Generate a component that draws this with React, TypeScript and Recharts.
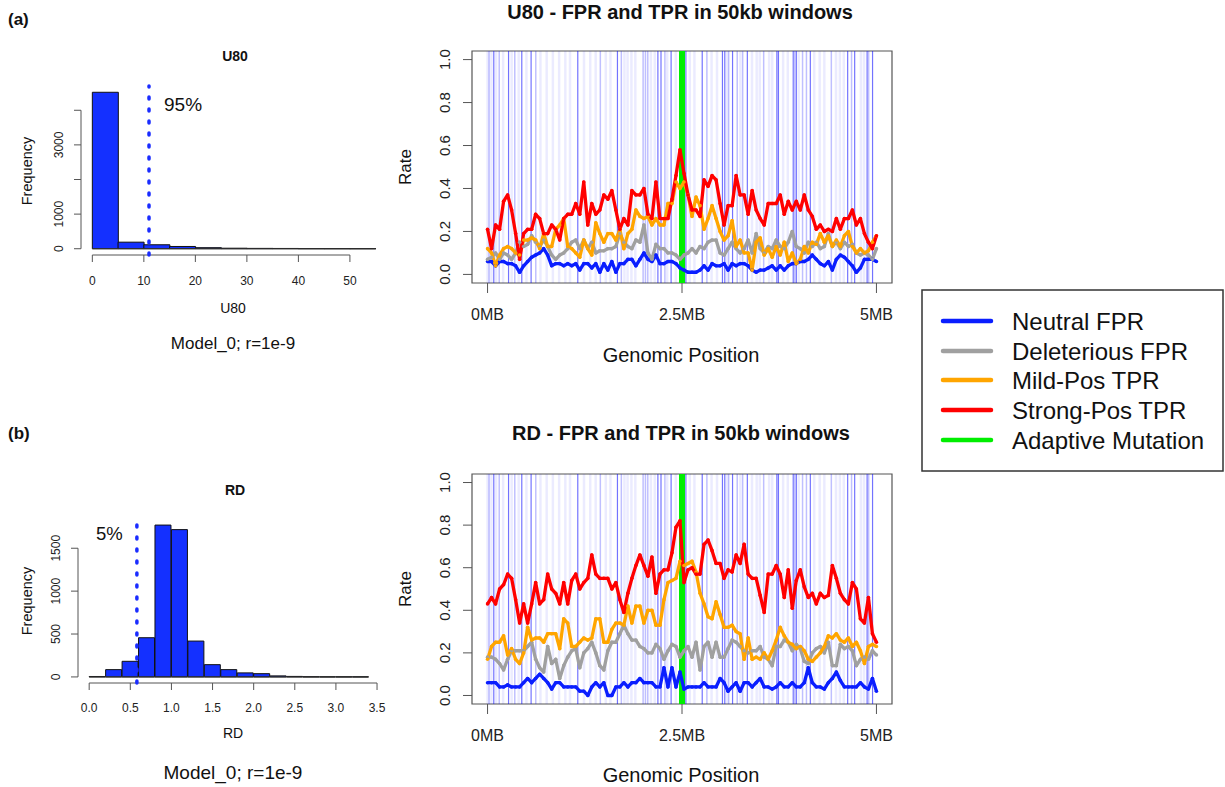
import React from "react";
import {
  ComposedChart,
  LineChart,
  Line,
  Bar,
  XAxis,
  YAxis,
  ReferenceLine,
  ReferenceArea,
} from "recharts";

const FONT = '"Liberation Sans", Arial, Helvetica, sans-serif';

// ---------- histograms ----------
const u80BinStart = [0, 5, 10, 15, 20, 25, 30, 35, 40, 45, 50];
const u80Counts = [4520, 190, 115, 65, 30, 15, 10, 8, 3, 2, 1];
const u80XTicks = [0, 10, 20, 30, 40, 50];
const u80YTicks = [0, 1000, 2000, 3000, 4000];
const u80YLabels = ["0", "1000", "", "3000", ""];
const u80Cutoff = 11; // 95%

const rdBinStart = [0, 0.2, 0.4, 0.6, 0.8, 1.0, 1.2, 1.4, 1.6, 1.8, 2.0, 2.2, 2.4, 2.6, 2.8, 3.0, 3.2];
const rdCounts = [5, 85, 182, 457, 1770, 1717, 418, 143, 85, 47, 38, 12, 6, 2, 1, 1, 1];
const rdXTicks = [0, 0.5, 1, 1.5, 2, 2.5, 3, 3.5];
const rdYTicks = [0, 500, 1000, 1500];
const rdYLabels = ["0", "500", "1000", "1500"];
const rdCutoff = 0.58; // 5%

// ---------- 50kb windows, U80 ----------
const u80Neutral = [
  0.06, 0.06, 0.04, 0.06, 0.06, 0.05, 0.05, 0.04, 0.01, 0.04, 0.06, 0.08, 0.09, 0.1, 0.12, 0.09, 0.04, 0.05, 0.05, 0.04,
  0.05, 0.04, 0.05, 0.02, 0.05, 0.05, 0.03, 0.05, 0.01, 0.05, 0.02, 0.06, 0.01, 0.05, 0.05, 0.07, 0.07, 0.04, 0.07, 0.1,
  0.07, 0.06, 0.09, 0.05, 0.05, 0.06, 0.06, 0.05, 0.03, 0.02, 0.01, 0.01, 0.01, 0.02, 0.04, 0.02, 0.05, 0.04, 0.04, 0.05,
  0.02, 0.05, 0.04, 0.05, 0.05, 0.04, 0.02, 0.01, 0.02, 0.02, 0.03, 0.04, 0.02, 0.04, 0.02, 0.04, 0.05, 0.05, 0.06, 0.06,
  0.07, 0.09, 0.07, 0.05, 0.04, 0.06, 0.02, 0.07, 0.09, 0.08, 0.06, 0.04, 0.01, 0.03, 0.07, 0.07, 0.07, 0.06,
];
const u80Deleterious = [
  0.07, 0.08, 0.1, 0.07, 0.1, 0.09, 0.07, 0.1, 0.15, 0.13, 0.14, 0.18, 0.15, 0.13, 0.16, 0.13, 0.09, 0.07, 0.09, 0.1,
  0.12, 0.15, 0.16, 0.12, 0.16, 0.12, 0.15, 0.1, 0.11, 0.11, 0.12, 0.12, 0.13, 0.19, 0.15, 0.13, 0.12, 0.16, 0.15, 0.23,
  0.1, 0.07, 0.14, 0.12, 0.12, 0.1, 0.1, 0.09, 0.07, 0.09, 0.1, 0.12, 0.1, 0.13, 0.12, 0.15, 0.16, 0.16, 0.1, 0.09,
  0.12, 0.15, 0.12, 0.1, 0.12, 0.16, 0.1, 0.19, 0.12, 0.1, 0.13, 0.12, 0.16, 0.13, 0.12, 0.15, 0.2, 0.13, 0.12, 0.1,
  0.15, 0.13, 0.15, 0.12, 0.13, 0.19, 0.13, 0.15, 0.12, 0.15, 0.13, 0.14, 0.1, 0.09, 0.1, 0.09, 0.07, 0.12,
];
const u80Mild = [
  0.12, 0.1, 0.04, 0.09, 0.12, 0.13, 0.12, 0.1, 0.09, 0.16, 0.16, 0.17, 0.16, 0.12, 0.19, 0.13, 0.13, 0.21, 0.23, 0.26,
  0.13, 0.12, 0.1, 0.08, 0.16, 0.12, 0.09, 0.24, 0.19, 0.15, 0.19, 0.19, 0.16, 0.21, 0.12, 0.19, 0.21, 0.3, 0.27, 0.26,
  0.27, 0.23, 0.26, 0.23, 0.23, 0.33, 0.33, 0.43, 0.4, 0.43, 0.37, 0.27, 0.36, 0.32, 0.21, 0.26, 0.32, 0.26, 0.2, 0.16,
  0.18, 0.25, 0.13, 0.16, 0.1, 0.1, 0.02, 0.15, 0.17, 0.09, 0.12, 0.08, 0.13, 0.09, 0.15, 0.06, 0.1, 0.05, 0.07, 0.13,
  0.1, 0.15, 0.14, 0.19, 0.15, 0.18, 0.13, 0.16, 0.13, 0.18, 0.2, 0.13, 0.1, 0.12, 0.1, 0.11, 0.15, 0.18,
];
const u80Strong = [
  0.21, 0.12, 0.23, 0.21, 0.34, 0.37, 0.3, 0.19, 0.07, 0.19, 0.21, 0.21, 0.28, 0.26, 0.19, 0.19, 0.23, 0.21, 0.16, 0.26,
  0.28, 0.28, 0.33, 0.28, 0.43, 0.23, 0.33, 0.28, 0.3, 0.37, 0.35, 0.39, 0.3, 0.21, 0.26, 0.23, 0.39, 0.37, 0.37, 0.4,
  0.28, 0.26, 0.43, 0.26, 0.26, 0.26, 0.35, 0.46, 0.58, 0.47, 0.37, 0.3, 0.3, 0.27, 0.44, 0.41, 0.46, 0.44, 0.33, 0.23,
  0.32, 0.32, 0.46, 0.37, 0.37, 0.28, 0.39, 0.3, 0.26, 0.23, 0.33, 0.33, 0.33, 0.37, 0.28, 0.34, 0.3, 0.34, 0.3, 0.37,
  0.3, 0.27, 0.21, 0.23, 0.2, 0.21, 0.2, 0.26, 0.21, 0.26, 0.26, 0.3, 0.23, 0.26, 0.19, 0.15, 0.12, 0.18,
];

// ---------- 50kb windows, RD ----------
const rdNeutral = [
  0.06, 0.06, 0.06, 0.04, 0.04, 0.05, 0.04, 0.04, 0.04, 0.06, 0.08, 0.06, 0.08, 0.1, 0.08, 0.06, 0.03, 0.06, 0.06, 0.04,
  0.04, 0.04, 0.04, 0.02, 0.02, 0.0, 0.04, 0.06, 0.04, 0.06, 0.0, 0.0, 0.04, 0.04, 0.06, 0.04, 0.06, 0.06, 0.08, 0.06,
  0.06, 0.06, 0.04, 0.04, 0.13, 0.04, 0.13, 0.04, 0.11, 0.03, 0.04, 0.04, 0.04, 0.04, 0.06, 0.04, 0.04, 0.04, 0.08, 0.06,
  0.02, 0.04, 0.06, 0.02, 0.06, 0.06, 0.04, 0.06, 0.08, 0.04, 0.04, 0.03, 0.04, 0.06, 0.04, 0.04, 0.06, 0.04, 0.04, 0.06,
  0.13, 0.06, 0.04, 0.04, 0.03, 0.06, 0.08, 0.11, 0.07, 0.04, 0.04, 0.04, 0.04, 0.06, 0.04, 0.03, 0.08, 0.02,
];
const rdDeleterious = [
  0.18, 0.18, 0.17, 0.15, 0.12, 0.17, 0.21, 0.21, 0.21, 0.21, 0.23, 0.25, 0.17, 0.13, 0.11, 0.23, 0.15, 0.17, 0.08, 0.14,
  0.18, 0.21, 0.22, 0.13, 0.2, 0.22, 0.25, 0.2, 0.14, 0.12, 0.21, 0.25, 0.25, 0.29, 0.33, 0.29, 0.26, 0.26, 0.23, 0.22,
  0.2, 0.2, 0.24, 0.22, 0.17, 0.21, 0.24, 0.23, 0.18, 0.21, 0.23, 0.18, 0.25, 0.12, 0.23, 0.25, 0.18, 0.25, 0.18, 0.18,
  0.22, 0.26, 0.25, 0.23, 0.21, 0.2, 0.21, 0.21, 0.23, 0.18, 0.17, 0.14, 0.23, 0.23, 0.26, 0.25, 0.21, 0.24, 0.22, 0.16,
  0.15, 0.2, 0.22, 0.23, 0.2, 0.25, 0.14, 0.14, 0.24, 0.22, 0.23, 0.21, 0.14, 0.17, 0.18, 0.17, 0.21, 0.19,
];
const rdMild = [
  0.17, 0.23, 0.25, 0.25, 0.28, 0.19, 0.22, 0.17, 0.15, 0.2, 0.32, 0.26, 0.27, 0.27, 0.25, 0.29, 0.29, 0.29, 0.22, 0.36,
  0.34, 0.23, 0.23, 0.25, 0.27, 0.26, 0.27, 0.36, 0.36, 0.25, 0.25, 0.31, 0.34, 0.34, 0.33, 0.42, 0.34, 0.42, 0.42, 0.34,
  0.4, 0.4, 0.33, 0.33, 0.45, 0.53, 0.54, 0.55, 0.63, 0.61, 0.62, 0.63, 0.58, 0.48, 0.43, 0.37, 0.36, 0.44, 0.38, 0.32,
  0.32, 0.33, 0.3, 0.29, 0.17, 0.27, 0.17, 0.18, 0.17, 0.2, 0.17, 0.21, 0.26, 0.32, 0.28, 0.25, 0.24, 0.22, 0.23, 0.21,
  0.17, 0.16, 0.18, 0.2, 0.23, 0.28, 0.27, 0.29, 0.26, 0.25, 0.27, 0.23, 0.25, 0.21, 0.15, 0.23, 0.24, 0.23,
];
const rdStrong = [
  0.43, 0.46, 0.43, 0.5, 0.52, 0.57, 0.55, 0.45, 0.34, 0.43, 0.34, 0.43, 0.53, 0.43, 0.45, 0.57, 0.5, 0.48, 0.43, 0.53,
  0.43, 0.54, 0.57, 0.5, 0.53, 0.55, 0.66, 0.57, 0.55, 0.55, 0.55, 0.5, 0.53, 0.45, 0.39, 0.48, 0.55, 0.61, 0.66, 0.61,
  0.56, 0.65, 0.48, 0.57, 0.59, 0.59, 0.67, 0.79, 0.82, 0.53, 0.59, 0.6, 0.57, 0.57, 0.71, 0.73, 0.68, 0.62, 0.62, 0.55,
  0.59, 0.58, 0.66, 0.62, 0.71, 0.57, 0.55, 0.55, 0.47, 0.39, 0.57, 0.57, 0.61, 0.57, 0.46, 0.59, 0.41, 0.54, 0.59, 0.51,
  0.46, 0.48, 0.43, 0.48, 0.46, 0.47, 0.61, 0.55, 0.48, 0.45, 0.43, 0.53, 0.5, 0.36, 0.34, 0.46, 0.29, 0.25,
];

const mbTicks = [0, 2.5, 5];
const mbTickLabels = ["0MB", "2.5MB", "5MB"];
const rateTicks = [0, 0.2, 0.4, 0.6, 0.8, 1.0];
const adaptivePos = 2.5;

// shaded background windows (MB)
const bgStrong = [0.08, 0.27, 0.44, 0.56, 1.16, 1.67, 2.19, 2.23, 2.36, 2.55, 2.76, 3.02, 3.05, 3.15, 3.34, 3.72, 3.74, 3.93, 3.97, 4.15, 4.63, 4.72, 4.88, 4.95];
const bgMedium = [0.02, 0.15, 0.35, 0.62, 1.45, 1.72, 2.0, 2.03, 2.06, 2.28, 2.82, 3.1, 3.21, 3.28, 3.55, 3.95, 4.05, 4.1, 4.42, 4.68, 4.9];
const bgLight = [0.0, 0.05, 0.11, 0.2, 0.31, 0.4, 0.5, 0.68, 0.76, 0.84, 0.92, 1.0, 1.06, 1.24, 1.32, 1.39, 1.52, 1.58, 1.76, 1.8, 1.85, 1.9, 2.1, 2.15, 2.31, 2.42, 2.6, 2.66, 2.88, 2.95, 3.08, 3.25, 3.4, 3.46, 3.5, 3.62, 3.66, 3.8, 3.86, 4.0, 4.2, 4.27, 4.33, 4.48, 4.53, 4.58, 4.8, 4.84];

const seriesKeys = ["neutral", "deleterious", "mild", "strong"];
const seriesNames = ["Neutral FPR", "Deleterious FPR", "Mild-Pos TPR", "Strong-Pos TPR", "Adaptive Mutation"];
const seriesColors = ["#0a1eff", "#a0a0a0", "#ffa500", "#ff0000", "#00ee00"];

const HIST_FILL = "#1430ff";

function buildRows(n: number[], d: number[], m: number[], s: number[]) {
  return n.map((v, i) => ({
    mb: (i * 5) / (n.length - 1),
    neutral: v,
    deleterious: d[i],
    mild: m[i],
    strong: s[i],
  }));
}

function buildBins(starts: number[], counts: number[]) {
  const w = starts[1] - starts[0];
  return starts.map((s, i) => ({ mid: s + w / 2, count: counts[i] }));
}

const RotTick = (props: any) => {
  const { x, y, payload, size, fmt } = props;
  return (
    <text
      x={x}
      y={y}
      transform={`rotate(-90 ${x} ${y})`}
      textAnchor="middle"
      fontSize={size}
      fontFamily={FONT}
      fill="#222"
    >
      {fmt(payload.value)}
    </text>
  );
};

const BottomTick = (props: any) => {
  const { x, y, payload, size, fmt } = props;
  return (
    <text x={x} y={y} dy="0.71em" textAnchor="middle" fontSize={size} fontFamily={FONT} fill="#222">
      {fmt(payload.value)}
    </text>
  );
};

const AXIS = "#555";

function Histogram(props: {
  top: number;
  marginTop: number;
  marginRight: number;
  yAxisWidth: number;
  xAxisHeight: number;
  tickMarginX: number;
  starts: number[];
  counts: number[];
  xTicks: number[];
  yTicks: number[];
  yLabels: string[];
  xDomain: [number, number];
  yDomain: [number, number];
  xFmt: (v: number) => string;
  cutoff: number;
}) {
  const data = buildBins(props.starts, props.counts);
  const binW = props.starts[1] - props.starts[0];
  const lastEdge = props.starts[props.starts.length - 1] + binW;
  const yFmt = (v: number) => props.yLabels[props.yTicks.indexOf(v)] ?? "";
  return (
    <div style={{ position: "absolute", left: 0, top: props.top }}>
      <ComposedChart
        width={400}
        height={260}
        data={data}
        barCategoryGap={0}
        barGap={0}
        margin={{ top: props.marginTop, right: props.marginRight, left: 0, bottom: 0 }}
      >
        <XAxis
          dataKey="mid"
          type="number"
          domain={props.xDomain}
          ticks={props.xTicks}
          allowDataOverflow
          axisLine={false}
          tickSize={7}
          tickMargin={props.tickMarginX}
          tickLine={{ stroke: AXIS }}
          height={props.xAxisHeight}
          tick={(p: any) => <BottomTick {...p} size={12} fmt={props.xFmt} />}
        />
        <YAxis
          type="number"
          domain={props.yDomain}
          ticks={props.yTicks}
          allowDataOverflow
          axisLine={false}
          tickSize={7}
          tickMargin={11}
          tickLine={{ stroke: AXIS }}
          width={props.yAxisWidth}
          tick={(p: any) => <RotTick {...p} size={12} fmt={yFmt} />}
        />
        <Bar dataKey="count" fill={HIST_FILL} stroke="#111" strokeWidth={1} isAnimationActive={false} />
        <ReferenceLine segment={[{ x: 0, y: 0 }, { x: lastEdge, y: 0 }]} stroke="#333" strokeWidth={1} />
        <ReferenceLine
          segment={[{ x: props.xTicks[0], y: props.yDomain[0] }, { x: props.xTicks[props.xTicks.length - 1], y: props.yDomain[0] }]}
          stroke={AXIS}
        />
        <ReferenceLine
          segment={[{ x: props.xDomain[0], y: props.yTicks[0] }, { x: props.xDomain[0], y: props.yTicks[props.yTicks.length - 1] }]}
          stroke={AXIS}
        />
        <ReferenceLine
          x={props.cutoff}
          stroke="#1a2cff"
          strokeWidth={3.5}
          strokeDasharray="2 10"
          strokeLinecap="round"
        />
      </ComposedChart>
    </div>
  );
}

function WindowPanel(props: { top: number; height: number; rows: any[] }) {
  return (
    <div style={{ position: "absolute", left: 400, top: props.top }}>
      <LineChart width={520} height={props.height} data={props.rows} margin={{ top: 11, right: 28, left: 0, bottom: 0 }}>
        <XAxis
          dataKey="mb"
          type="number"
          domain={[-0.2, 5.2]}
          ticks={mbTicks}
          allowDataOverflow
          axisLine={false}
          tickSize={10}
          tickMargin={16}
          tickLine={{ stroke: AXIS }}
          height={57}
          tick={(p: any) => <BottomTick {...p} size={16} fmt={(v: number) => mbTickLabels[mbTicks.indexOf(v)]} />}
        />
        <YAxis
          type="number"
          domain={[-0.04, 1.04]}
          ticks={rateTicks}
          allowDataOverflow
          axisLine={false}
          tickSize={9}
          tickMargin={13}
          tickLine={{ stroke: AXIS }}
          width={72}
          tick={(p: any) => <RotTick {...p} size={15} fmt={(v: number) => v.toFixed(1)} />}
        />
        {bgLight.map((v) => (
          <ReferenceLine key={"l" + v} x={v} stroke="#0000ff" strokeOpacity={0.08} strokeWidth={2.5} />
        ))}
        {bgMedium.map((v) => (
          <ReferenceLine key={"m" + v} x={v} stroke="#0000ff" strokeOpacity={0.25} strokeWidth={1.5} />
        ))}
        {bgStrong.map((v) => (
          <ReferenceLine key={"s" + v} x={v} stroke="#0000ff" strokeOpacity={0.55} strokeWidth={1.2} />
        ))}
        <ReferenceLine x={adaptivePos} stroke={seriesColors[4]} strokeWidth={6} />
        {seriesKeys.map((k, i) => (
          <Line
            key={k}
            dataKey={k}
            stroke={seriesColors[i]}
            strokeWidth={3.3}
            strokeLinejoin="round"
            dot={{ r: 1.8, strokeWidth: 0, fill: seriesColors[i] }}
            activeDot={false}
            isAnimationActive={false}
          />
        ))}
        <ReferenceArea x1={-0.2} x2={5.2} y1={-0.04} y2={1.04} fill="none" fillOpacity={0} stroke={AXIS} strokeWidth={1.2} />
      </LineChart>
    </div>
  );
}

const T = (p: {
  x: number;
  y: number;
  size: number;
  bold?: boolean;
  anchor?: "start" | "middle" | "end";
  rotate?: boolean;
  children: React.ReactNode;
}) => (
  <text
    x={p.x}
    y={p.y}
    fontSize={p.size}
    fontWeight={p.bold ? "bold" : "normal"}
    textAnchor={p.anchor ?? "middle"}
    dominantBaseline="central"
    transform={p.rotate ? `rotate(-90 ${p.x} ${p.y})` : undefined}
    fontFamily={FONT}
    fill="#111"
  >
    {p.children}
  </text>
);

export default function App() {
  const u80Rows = buildRows(u80Neutral, u80Deleterious, u80Mild, u80Strong);
  const rdRows = buildRows(rdNeutral, rdDeleterious, rdMild, rdStrong);
  const legendY = [321, 351, 380, 410, 440];

  return (
    <div style={{ position: "absolute", left: 0, top: 0, width: 1225, height: 787, background: "#fff", fontFamily: FONT }}>
      <svg width={1225} height={787} style={{ position: "absolute", left: 0, top: 0 }}>
        <T x={8} y={19} size={17} bold anchor="start">(a)</T>
        <T x={680} y={12} size={20} bold>U80 - FPR and TPR in 50kb windows</T>
        <T x={235} y={56} size={14} bold>U80</T>
        <T x={27} y={171} size={14.5} rotate>Frequency</T>
        <T x={164} y={104} size={19} anchor="start">95%</T>
        <T x={233} y={308} size={14}>U80</T>
        <T x={233} y={343} size={17}>Model_0; r=1e-9</T>
        <T x={405} y={167} size={17} rotate>Rate</T>
        <T x={681} y={355} size={20}>Genomic Position</T>

        <T x={8} y={433} size={17} bold anchor="start">(b)</T>
        <T x={681} y={433} size={20} bold>RD - FPR and TPR in 50kb windows</T>
        <T x={235} y={490} size={14} bold>RD</T>
        <T x={27} y={601} size={14.5} rotate>Frequency</T>
        <T x={96} y={533} size={18.5} anchor="start">5%</T>
        <T x={233} y={733} size={14}>RD</T>
        <T x={233} y={772} size={19}>Model_0; r=1e-9</T>
        <T x={405} y={589} size={17} rotate>Rate</T>
        <T x={681} y={775} size={20}>Genomic Position</T>

        <rect x={922} y={290} width={301} height={181} fill="#fff" stroke="#333" strokeWidth={1.5} />
        {seriesNames.map((name, i) => (
          <g key={name}>
            <line x1={943} x2={991} y1={legendY[i]} y2={legendY[i]} stroke={seriesColors[i]} strokeWidth={4.5} strokeLinecap="round" />
            <T x={1012} y={legendY[i]} size={24} anchor="start">{name}</T>
          </g>
        ))}
      </svg>

      <Histogram
        top={40}
        marginTop={46}
        marginRight={13}
        yAxisWidth={81}
        xAxisHeight={45}
        tickMarginX={14}
        starts={u80BinStart}
        counts={u80Counts}
        xTicks={u80XTicks}
        yTicks={u80YTicks}
        yLabels={u80YLabels}
        xDomain={[-2.2, 57.2]}
        yDomain={[-181, 4701]}
        xFmt={(v) => String(v)}
        cutoff={u80Cutoff}
      />
      <Histogram
        top={470}
        marginTop={49}
        marginRight={20}
        yAxisWidth={78}
        xAxisHeight={47}
        tickMarginX={13}
        starts={rdBinStart}
        counts={rdCounts}
        xTicks={rdXTicks}
        yTicks={rdYTicks}
        yLabels={rdYLabels}
        xDomain={[-0.136, 3.536]}
        yDomain={[-70.8, 1840.8]}
        xFmt={(v) => v.toFixed(1)}
        cutoff={rdCutoff}
      />

      <WindowPanel top={40} height={300} rows={u80Rows} />
      <WindowPanel top={463} height={298} rows={rdRows} />
    </div>
  );
}
